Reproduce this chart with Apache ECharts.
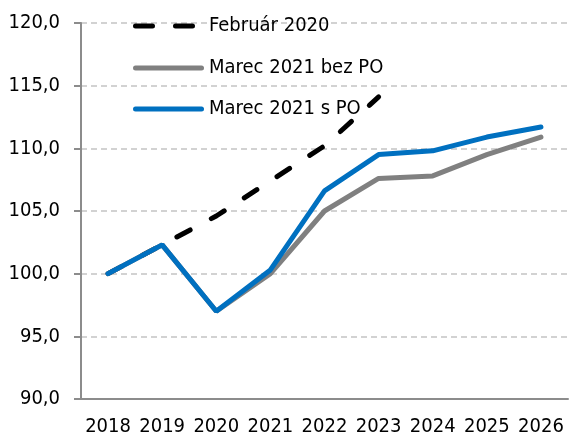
<!DOCTYPE html>
<html>
<head>
    <meta charset="UTF-8">
    <title>Vývoj</title>
    <script src="https://cdn.jsdelivr.net/npm/echarts@6/dist/echarts.min.js"></script>
    <style>
        body { margin: 0; background: #fff; }
        #chart { width: 577px; height: 440px; }
    </style>
</head>
<body>
    <div id="chart"></div>
    <script>
        // data
        let years = ["2018", "2019", "2020", "2021", "2022", "2023", "2024", "2025", "2026"];
        let feb2020 = [100.0, 102.3, 104.6, 107.4, 110.2, 114.1, null, null, null];
        let marecBezPO = [100.0, 102.3, 97.0, 100.0, 105.0, 107.6, 107.8, 109.5, 110.9];
        let marecSPO = [100.0, 102.3, 97.0, 100.3, 106.6, 109.5, 109.8, 110.9, 111.7];

        let font = "'Liberation Sans Narrow', 'Arial Narrow', 'DejaVu Sans Condensed', sans-serif";
        let axisGray = "#8c8c8c";

        // one legend per row so each row sits where it does in the picture
        function legendAt(name, top, icon, width, textPad) {
            return {
                data: [name],
                left: 128,
                top: top,
                icon: icon,
                itemWidth: width,
                itemHeight: 5,
                textStyle: { fontFamily: font, fontSize: 20, color: "#000", padding: [0, 0, 0, textPad] },
                selectedMode: false
            };
        }

        let dashIcon = "path://M2.5,0 H19.5 A2.5,2.5 0 0 1 19.5,5 H2.5 A2.5,2.5 0 0 1 2.5,0 Z M42.5,0 H59.5 A2.5,2.5 0 0 1 59.5,5 H42.5 A2.5,2.5 0 0 1 42.5,0 Z";
        let solidIcon = "path://M2.5,0 H68.5 A2.5,2.5 0 0 1 68.5,5 H2.5 A2.5,2.5 0 0 1 2.5,0 Z";

        let chart = echarts.init(document.getElementById("chart"));
        chart.setOption({
            animation: false,
            legend: [
                legendAt("Február 2020", 11, dashIcon, 62, 9),
                legendAt("Marec 2021 bez PO", 53, solidIcon, 71, 0),
                legendAt("Marec 2021 s PO", 94, solidIcon, 71, 0)
            ],
            grid: { left: 81, right: 9, top: 23, bottom: 41 },
            xAxis: {
                type: "category",
                data: years,
                axisLine: { lineStyle: { color: axisGray, width: 2 } },
                axisTick: { length: 6, lineStyle: { color: axisGray, width: 2 } },
                axisLabel: { fontFamily: font, fontSize: 20, color: "#000", margin: 18, interval: 0 },
                splitLine: { show: false }
            },
            yAxis: {
                type: "value",
                min: 90,
                max: 120,
                interval: 5,
                axisLine: { show: true, lineStyle: { color: axisGray, width: 2 } },
                axisTick: { show: true, length: 7, lineStyle: { color: axisGray, width: 2 } },
                axisLabel: {
                    fontFamily: font, fontSize: 20, color: "#000", margin: 21,
                    formatter: v => v.toFixed(1).replace(".", ",")
                },
                splitLine: { lineStyle: { color: "#c4c4c4", width: 1.5, type: [6, 4] } }
            },
            series: [
                {
                    name: "Február 2020",
                    type: "line",
                    data: feb2020,
                    symbol: "none",
                    color: "#000",
                    lineStyle: { width: 5, type: [15, 24], cap: "round", color: "#000" }
                },
                {
                    name: "Marec 2021 bez PO",
                    type: "line",
                    data: marecBezPO,
                    symbol: "none",
                    color: "#808080",
                    lineStyle: { width: 5, cap: "round", color: "#808080" }
                },
                {
                    name: "Marec 2021 s PO",
                    type: "line",
                    data: marecSPO,
                    symbol: "none",
                    color: "#0070c0",
                    lineStyle: { width: 5, cap: "round", color: "#0070c0" }
                }
            ]
        });
    </script>
</body>
</html>
